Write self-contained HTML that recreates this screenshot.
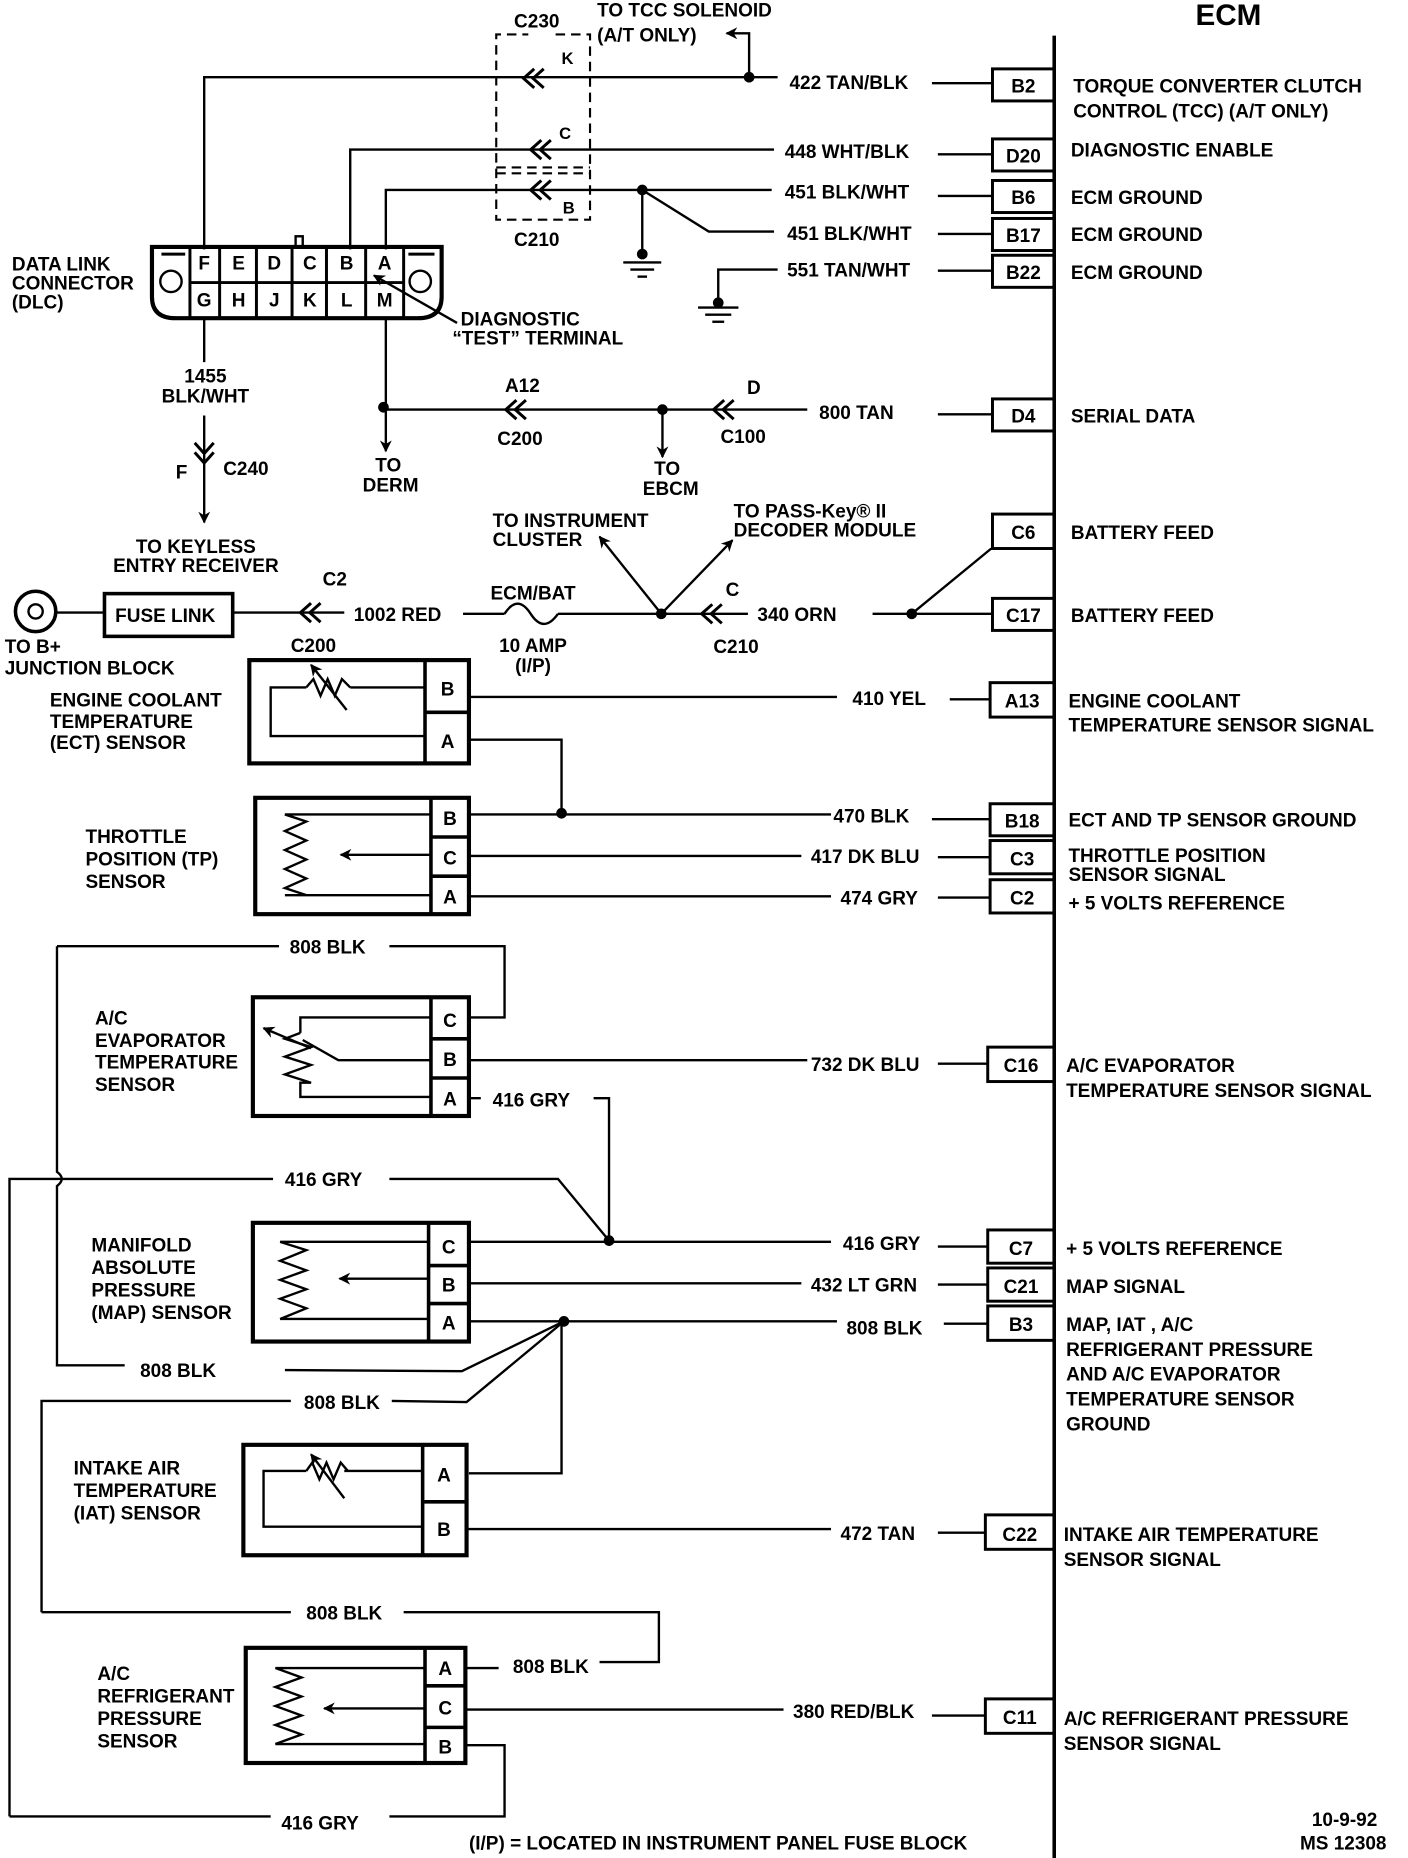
<!DOCTYPE html>
<html><head><meta charset="utf-8"><style>
html,body{margin:0;padding:0;background:#fff;width:1408px;height:1858px;overflow:hidden}
svg{display:block}
text{font-family:"Liberation Sans",sans-serif;font-weight:bold;font-size:16px;fill:#000}
</style></head><body>
<svg width="1408" height="1858" viewBox="0 0 1186 1565" xmlns="http://www.w3.org/2000/svg">
<defs>
<g id="chev"><polyline points="10,-8 1,0 10,8" fill="none" stroke="#000" stroke-width="2.5"/><polyline points="18,-8 9,0 18,8" fill="none" stroke="#000" stroke-width="2.5"/></g>
<marker id="ar" markerWidth="10" markerHeight="10" refX="9" refY="5" orient="auto" markerUnits="userSpaceOnUse"><path d="M0,0 L10,5 L0,10 L3,5 Z" fill="#000"/></marker>
</defs>
<g stroke="#000" stroke-width="2" fill="none">
<line x1="888" y1="30" x2="888" y2="1565" stroke-width="3"/>
<g stroke-width="2.5">
<rect x="836" y="58" width="52" height="27"/>
<rect x="836" y="117" width="52" height="27"/>
<rect x="836" y="152" width="52" height="27"/>
<rect x="836" y="184" width="52" height="27"/>
<rect x="836" y="215" width="52" height="27"/>
<rect x="836" y="336" width="52" height="27"/>
<rect x="836" y="433" width="52" height="29"/>
<rect x="836" y="504" width="52" height="27"/>
<rect x="834" y="575" width="54" height="29"/>
<rect x="834" y="677" width="54" height="27"/>
<rect x="834" y="708" width="54" height="28"/>
<rect x="834" y="741" width="54" height="28"/>
<rect x="832" y="882" width="56" height="29"/>
<rect x="832" y="1036" width="56" height="28"/>
<rect x="832" y="1068" width="56" height="28"/>
<rect x="832" y="1100" width="56" height="29"/>
<rect x="830" y="1276" width="58" height="29"/>
<rect x="830" y="1431" width="58" height="29"/>
</g>
<polyline points="172,210 172,65 655,65"/>
<line x1="785" y1="70" x2="836" y2="70"/>
<polyline points="631,65 631,28 612,28" marker-end="url(#ar)"/>
<polyline points="295,210 295,126 652,126"/>
<line x1="790" y1="130" x2="836" y2="130"/>
<polyline points="325,210 325,160 650,160"/>
<line x1="790" y1="165" x2="836" y2="165"/>
<polyline points="541,160 541,212"/>
<polyline points="541,160 597,195 652,195"/>
<line x1="790" y1="197" x2="836" y2="197"/>
<polyline points="605,252 605,227 655,227"/>
<line x1="790" y1="228" x2="836" y2="228"/>
<line x1="525" y1="221" x2="557" y2="221"/><line x1="531" y1="227" x2="551" y2="227"/><line x1="537" y1="233" x2="545" y2="233"/>
<line x1="588" y1="259" x2="622" y2="259"/><line x1="594" y1="265" x2="616" y2="265"/><line x1="600" y1="271" x2="610" y2="271"/>
<g stroke-dasharray="8,5" stroke-width="1.8">
<polyline points="468,29 497,29 497,185 418,185 418,29 445,29"/>
<line x1="418" y1="141" x2="497" y2="141"/><line x1="418" y1="146" x2="497" y2="146"/>
</g>
<path d="M128,208 L372,208 L372,250 Q372,268 352,268 L148,268 Q128,268 128,250 Z" stroke-width="3.5"/>
<line x1="160" y1="208" x2="160" y2="268" stroke-width="2.5"/><line x1="340" y1="208" x2="340" y2="268" stroke-width="2.5"/>
<line x1="160" y1="238" x2="340" y2="238" stroke-width="2.5"/>
<g stroke-width="2.5">
<line x1="185" y1="208" x2="185" y2="268"/><line x1="216" y1="208" x2="216" y2="268"/><line x1="246" y1="208" x2="246" y2="268"/>
<line x1="275" y1="208" x2="275" y2="268"/><line x1="308" y1="208" x2="308" y2="268"/>
<line x1="136" y1="214" x2="156" y2="214"/><line x1="344" y1="214" x2="366" y2="214"/>
</g>
<circle cx="144" cy="237" r="9"/><circle cx="354" cy="237" r="9"/>
<rect x="249" y="199" width="6" height="9" stroke-width="2"/>
<line x1="385" y1="272" x2="315" y2="232" marker-end="url(#ar)"/>
<line x1="325" y1="268" x2="325" y2="380" marker-end="url(#ar)"/>
<line x1="323" y1="345" x2="680" y2="345"/>
<line x1="790" y1="349" x2="836" y2="349"/>
<line x1="558" y1="345" x2="558" y2="385" marker-end="url(#ar)"/>
<line x1="172" y1="268" x2="172" y2="305"/>
<line x1="172" y1="350" x2="172" y2="440" marker-end="url(#ar)"/>
<circle cx="30" cy="515" r="17" stroke-width="3"/><circle cx="30" cy="515" r="6"/>
<line x1="47" y1="516" x2="88" y2="516"/>
<rect x="88" y="500" width="108" height="36" stroke-width="3"/>
<line x1="196" y1="516" x2="290" y2="516"/>
<line x1="390" y1="517" x2="425" y2="517"/>
<path d="M425,517 Q436,500 447,517 T470,517"/>
<line x1="470" y1="517" x2="630" y2="517"/>
<line x1="557" y1="517" x2="505" y2="452" marker-end="url(#ar)"/>
<line x1="557" y1="517" x2="617" y2="455" marker-end="url(#ar)"/>
<line x1="735" y1="517" x2="836" y2="517"/>
<polyline points="768,517 835,462"/>
<rect x="210" y="556" width="185" height="87" stroke-width="3.5"/>
<line x1="358" y1="556" x2="358" y2="643" stroke-width="3"/><line x1="358" y1="600" x2="395" y2="600" stroke-width="3"/>
<polyline points="358,579 295,579"/><polyline points="258,579 228,579 228,620 358,620"/>
<polyline points="258,579 264,572 270,586 276,572 282,586 288,572 295,579"/>
<line x1="292" y1="598" x2="262" y2="560" marker-end="url(#ar)"/>
<line x1="395" y1="587" x2="705" y2="587"/><line x1="800" y1="589" x2="834" y2="589"/>
<polyline points="395,623 473,623 473,685"/>
<rect x="215" y="672" width="180" height="98" stroke-width="3.5"/>
<line x1="363" y1="672" x2="363" y2="770" stroke-width="3"/><line x1="363" y1="705" x2="395" y2="705" stroke-width="3"/><line x1="363" y1="738" x2="395" y2="738" stroke-width="3"/>
<polyline points="363,686 240,686 258,692 240,700 258,708 240,716 258,724 240,732 258,740 240,748 258,754 240,754 363,754"/>
<line x1="363" y1="720" x2="287" y2="720" marker-end="url(#ar)"/>
<line x1="395" y1="686" x2="700" y2="686"/><line x1="785" y1="690" x2="834" y2="690"/>
<line x1="395" y1="721" x2="675" y2="721"/><line x1="790" y1="722" x2="834" y2="722"/>
<line x1="395" y1="755" x2="700" y2="755"/><line x1="790" y1="756" x2="834" y2="756"/>
<rect x="213" y="840" width="182" height="100" stroke-width="3.5"/>
<line x1="363" y1="840" x2="363" y2="940" stroke-width="3"/><line x1="363" y1="875" x2="395" y2="875" stroke-width="3"/><line x1="363" y1="908" x2="395" y2="908" stroke-width="3"/>
<polyline points="363,857 253,857 253,870"/>
<polyline points="253,870 240,875 262,882 240,890 262,897 240,905 262,912 253,912 253,924 363,924"/>
<polyline points="363,893 285,893 255,876"/>
<line x1="262" y1="883" x2="222" y2="866" marker-end="url(#ar)"/>
<polyline points="48,797 235,797"/><polyline points="328,797 425,797 425,857 395,857"/>
<line x1="395" y1="893" x2="680" y2="893"/><line x1="790" y1="896" x2="832" y2="896"/>
<line x1="395" y1="925" x2="405" y2="925"/>
<polyline points="500,925 513,925 513,1045"/>
<path d="M48,797 L48,987 Q56,993 48,999 L48,1150 L105,1150"/>
<polyline points="8,1530 8,993 230,993"/>
<polyline points="328,993 470,993 513,1045"/>
<rect x="213" y="1030" width="182" height="100" stroke-width="3.5"/>
<line x1="361" y1="1030" x2="361" y2="1130" stroke-width="3"/><line x1="361" y1="1066" x2="395" y2="1066" stroke-width="3"/><line x1="361" y1="1098" x2="395" y2="1098" stroke-width="3"/>
<polyline points="361,1046 236,1046 258,1053 236,1062 258,1070 236,1078 258,1086 236,1094 258,1102 236,1111 361,1111"/>
<line x1="361" y1="1077" x2="286" y2="1077" marker-end="url(#ar)"/>
<line x1="395" y1="1046" x2="700" y2="1046"/><line x1="790" y1="1050" x2="832" y2="1050"/>
<line x1="395" y1="1081" x2="675" y2="1081"/><line x1="790" y1="1082" x2="832" y2="1082"/>
<line x1="395" y1="1113" x2="705" y2="1113"/><line x1="795" y1="1115" x2="832" y2="1115"/>
<polyline points="240,1154 389,1155 475,1113"/>
<polyline points="35,1358 35,1180 245,1180"/>
<polyline points="330,1180 393,1181 475,1113"/>
<polyline points="395,1241 473,1241 473,1113"/>
<rect x="205" y="1217" width="188" height="93" stroke-width="3.5"/>
<line x1="356" y1="1217" x2="356" y2="1310" stroke-width="3"/><line x1="356" y1="1265" x2="393" y2="1265" stroke-width="3"/>
<polyline points="356,1239 290,1239"/><polyline points="258,1239 222,1239 222,1286 356,1286"/>
<polyline points="258,1239 263,1232 269,1246 275,1232 281,1246 287,1232 293,1239"/>
<line x1="290" y1="1262" x2="262" y2="1225" marker-end="url(#ar)"/>
<line x1="393" y1="1288" x2="700" y2="1288"/><line x1="790" y1="1291" x2="830" y2="1291"/>
<line x1="35" y1="1358" x2="245" y2="1358"/>
<polyline points="340,1358 555,1358 555,1400 505,1400"/>
<line x1="392" y1="1405" x2="420" y2="1405"/>
<rect x="207" y="1388" width="185" height="97" stroke-width="3.5"/>
<line x1="358" y1="1388" x2="358" y2="1485" stroke-width="3"/><line x1="358" y1="1420" x2="392" y2="1420" stroke-width="3"/><line x1="358" y1="1455" x2="392" y2="1455" stroke-width="3"/>
<polyline points="358,1405 232,1405 254,1413 232,1421 254,1429 232,1437 254,1445 232,1453 254,1461 232,1469 358,1469"/>
<line x1="358" y1="1439" x2="273" y2="1439" marker-end="url(#ar)"/>
<line x1="392" y1="1440" x2="660" y2="1440"/><line x1="785" y1="1445" x2="830" y2="1445"/>
<polyline points="392,1470 425,1470 425,1530 328,1530"/>
<line x1="8" y1="1530" x2="228" y2="1530"/>
</g>
<use href="#chev" x="440" y="66"/>
<use href="#chev" x="446" y="126"/>
<use href="#chev" x="446" y="160"/>
<use href="#chev" x="425" y="345"/>
<use href="#chev" x="600" y="345"/>
<use href="#chev" x="252" y="516"/>
<use href="#chev" x="590" y="517"/>
<use href="#chev" transform="translate(172,391) rotate(-90)"/>
<g fill="#000">
<circle cx="631" cy="65" r="4.5"/><circle cx="541" cy="160" r="4.5"/><circle cx="541" cy="214" r="4.5"/><circle cx="605" cy="255" r="4.5"/>
<circle cx="323" cy="343" r="4.5"/><circle cx="558" cy="345" r="4.5"/><circle cx="557" cy="517" r="4.5"/><circle cx="768" cy="517" r="4.5"/>
<circle cx="473" cy="685" r="4.5"/><circle cx="513" cy="1045" r="4.5"/><circle cx="475" cy="1113" r="4.5"/>
</g>
<text x="1007" y="21" style="font-size:25px">ECM</text>
<text x="503" y="14">TO TCC SOLENOID</text>
<text x="503" y="35">(A/T ONLY)</text>
<text x="433" y="23">C230</text>
<text x="473" y="54" style="font-size:14px">K</text>
<text x="471" y="117" style="font-size:14px">C</text>
<text x="474" y="180" style="font-size:14px">B</text>
<text x="433" y="207">C210</text>
<text x="665" y="75">422 TAN/BLK</text>
<text x="661" y="133">448 WHT/BLK</text>
<text x="661" y="167">451 BLK/WHT</text>
<text x="663" y="202">451 BLK/WHT</text>
<text x="663" y="233">551 TAN/WHT</text>
<g text-anchor="middle">
<text x="862" y="78">B2</text><text x="862" y="137">D20</text><text x="862" y="172">B6</text><text x="862" y="204">B17</text><text x="862" y="235">B22</text>
<text x="862" y="356">D4</text><text x="862" y="454">C6</text><text x="862" y="524">C17</text><text x="861" y="596">A13</text>
<text x="861" y="697">B18</text><text x="861" y="729">C3</text><text x="861" y="762">C2</text><text x="860" y="903">C16</text>
<text x="860" y="1057">C7</text><text x="860" y="1089">C21</text><text x="860" y="1121">B3</text><text x="859" y="1298">C22</text><text x="859" y="1452">C11</text>
<text x="172" y="227">F</text><text x="201" y="227">E</text><text x="231" y="227">D</text><text x="261" y="227">C</text><text x="292" y="227">B</text><text x="324" y="227">A</text>
<text x="172" y="258">G</text><text x="201" y="258">H</text><text x="231" y="258">J</text><text x="261" y="258">K</text><text x="292" y="258">L</text><text x="324" y="258">M</text>
<text x="377" y="586">B</text><text x="377" y="630">A</text>
<text x="379" y="695">B</text><text x="379" y="728">C</text><text x="379" y="761">A</text>
<text x="379" y="865">C</text><text x="379" y="898">B</text><text x="379" y="931">A</text>
<text x="378" y="1056">C</text><text x="378" y="1088">B</text><text x="378" y="1120">A</text>
<text x="374" y="1248">A</text><text x="374" y="1294">B</text>
<text x="375" y="1411">A</text><text x="375" y="1444">C</text><text x="375" y="1477">B</text>
<text x="173" y="322">1455</text><text x="173" y="339">BLK/WHT</text>
<text x="165" y="466">TO KEYLESS</text><text x="165" y="482">ENTRY RECEIVER</text>
<text x="327" y="397">TO</text><text x="329" y="414">DERM</text>
<text x="562" y="400">TO</text><text x="565" y="417">EBCM</text>
<text x="440" y="330">A12</text><text x="438" y="375">C200</text>
<text x="635" y="332">D</text><text x="626" y="373">C100</text>
<text x="282" y="493">C2</text><text x="617" y="502">C</text><text x="620" y="550">C210</text>
<text x="449" y="505">ECM/BAT</text><text x="449" y="549">10 AMP</text><text x="449" y="566">(I/P)</text>
<text x="264" y="549">C200</text>
</g>
<text x="10" y="228">DATA LINK</text><text x="10" y="244">CONNECTOR</text><text x="10" y="260">(DLC)</text>
<text x="388" y="274">DIAGNOSTIC</text><text x="381" y="290">“TEST” TERMINAL</text>
<text x="148" y="403">F</text><text x="188" y="400">C240</text>
<text x="690" y="353">800 TAN</text>
<text x="415" y="444">TO INSTRUMENT</text><text x="415" y="460">CLUSTER</text>
<text x="618" y="436">TO PASS-Key® II</text><text x="618" y="452">DECODER MODULE</text>
<text x="97" y="524">FUSE LINK</text>
<text x="298" y="523">1002 RED</text><text x="638" y="523">340 ORN</text>
<text x="4" y="550">TO B+</text><text x="4" y="568">JUNCTION BLOCK</text>
<text x="42" y="595">ENGINE COOLANT</text><text x="42" y="613">TEMPERATURE</text><text x="42" y="631">(ECT) SENSOR</text>
<text x="72" y="710">THROTTLE</text><text x="72" y="729">POSITION (TP)</text><text x="72" y="748">SENSOR</text>
<text x="80" y="863">A/C</text><text x="80" y="882">EVAPORATOR</text><text x="80" y="900">TEMPERATURE</text><text x="80" y="919">SENSOR</text>
<text x="77" y="1054">MANIFOLD</text><text x="77" y="1073">ABSOLUTE</text><text x="77" y="1092">PRESSURE</text><text x="77" y="1111">(MAP) SENSOR</text>
<text x="62" y="1242">INTAKE AIR</text><text x="62" y="1261">TEMPERATURE</text><text x="62" y="1280">(IAT)  SENSOR</text>
<text x="82" y="1415">A/C</text><text x="82" y="1434">REFRIGERANT</text><text x="82" y="1453">PRESSURE</text><text x="82" y="1472">SENSOR</text>
<text x="718" y="594">410 YEL</text><text x="702" y="693">470 BLK</text><text x="683" y="727">417 DK BLU</text><text x="708" y="762">474 GRY</text>
<text x="244" y="803">808 BLK</text><text x="415" y="932">416 GRY</text><text x="683" y="902">732 DK BLU</text>
<text x="240" y="999">416 GRY</text><text x="710" y="1053">416 GRY</text><text x="683" y="1088">432 LT GRN</text><text x="713" y="1124">808 BLK</text>
<text x="118" y="1160">808 BLK</text><text x="256" y="1187">808 BLK</text><text x="708" y="1297">472 TAN</text>
<text x="258" y="1364">808 BLK</text><text x="432" y="1409">808 BLK</text><text x="668" y="1447">380 RED/BLK</text>
<text x="237" y="1541">416 GRY</text>
<text x="395" y="1558">(I/P)  =  LOCATED IN INSTRUMENT PANEL FUSE BLOCK</text>
<text x="1105" y="1538">10-9-92</text><text x="1095" y="1558">MS 12308</text>
<g>
<text x="904" y="78">TORQUE CONVERTER CLUTCH</text><text x="904" y="99">CONTROL (TCC) (A/T ONLY)</text>
<text x="902" y="132">DIAGNOSTIC ENABLE</text>
<text x="902" y="172">ECM GROUND</text><text x="902" y="203">ECM GROUND</text><text x="902" y="235">ECM GROUND</text>
<text x="902" y="356">SERIAL DATA</text>
<text x="902" y="454">BATTERY FEED</text><text x="902" y="524">BATTERY FEED</text>
<text x="900" y="596">ENGINE COOLANT</text><text x="900" y="616">TEMPERATURE SENSOR SIGNAL</text>
<text x="900" y="696">ECT AND TP SENSOR GROUND</text>
<text x="900" y="726">THROTTLE POSITION</text><text x="900" y="742">SENSOR SIGNAL</text>
<text x="900" y="766">+ 5 VOLTS REFERENCE</text>
<text x="898" y="903">A/C EVAPORATOR</text><text x="898" y="924">TEMPERATURE SENSOR SIGNAL</text>
<text x="898" y="1057">+ 5 VOLTS REFERENCE</text><text x="898" y="1089">MAP SIGNAL</text>
<text x="898" y="1121">MAP, IAT , A/C</text><text x="898" y="1142">REFRIGERANT PRESSURE</text><text x="898" y="1163">AND A/C EVAPORATOR</text><text x="898" y="1184">TEMPERATURE SENSOR</text><text x="898" y="1205">GROUND</text>
<text x="896" y="1298">INTAKE AIR TEMPERATURE</text><text x="896" y="1319">SENSOR SIGNAL</text>
<text x="896" y="1453">A/C REFRIGERANT PRESSURE</text><text x="896" y="1474">SENSOR SIGNAL</text>
</g>
</svg>
</body></html>
